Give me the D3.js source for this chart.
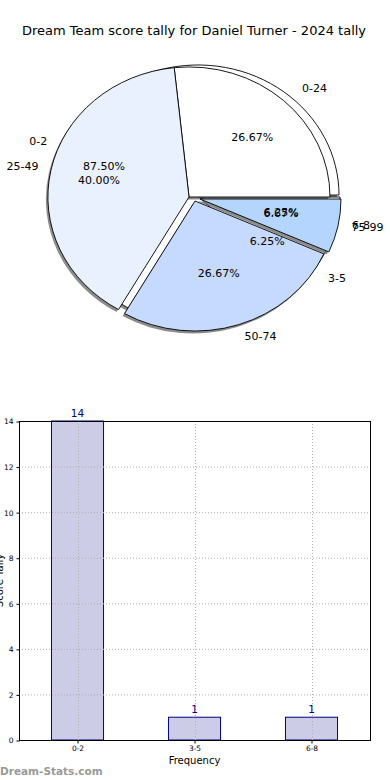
<!DOCTYPE html>
<html><head><meta charset="utf-8">
<script src="https://cdn.jsdelivr.net/npm/d3@7"></script>
<style>body{margin:0;background:#fff}svg{display:block;font-family:"DejaVu Sans",sans-serif}</style>
</head><body><svg id="c" width="390" height="780"></svg>
<script>
// ---- data ----
const title = "Dream Team score tally for Daniel Turner - 2024 tally";
const scoreCats = ["0-24","25-49","50-74","75-99"];
const scoreVals = [4,6,4,1];
const scoreColors = ["#ffffff","#eaf1fe","#c6d9fe","#b3d5fe"];
const freqCats = ["0-2","3-5","6-8"];
const freqVals = [14,1,1];
const freqColors = ["#ffffff","#ffffff","#ffffff"];
const yTicks = [0,2,4,6,8,10,12,14];
const xLabel = "Frequency";
const yLabel = "Score Tally";
const watermark = "Dream-Stats.com";

const svg = d3.select("#c");
svg.append("text").attr("x",194).attr("y",35).attr("text-anchor","middle")
  .attr("font-size",13).attr("fill","#000").text(title);

// ---- pies (elliptical) ----
const cx=189, cy=197, rx=141, ry=130;
const pie = d3.pie().sort(null).startAngle(Math.PI/2).endAngle(Math.PI/2-2*Math.PI);
const arc = d3.arc().innerRadius(0).outerRadius(1);
const shadowOff=[-2,2.5];
function midTheta(d){ return Math.PI/2 - (d.startAngle+d.endAngle)/2; }

function drawWedges(g, arcs, colors, offsets){
  arcs.forEach((d,i)=>{
    const o=offsets[i];
    g.append("path").attr("d",arc(d))
      .attr("transform",`translate(${cx+o[0]+shadowOff[0]},${cy+o[1]+shadowOff[1]}) scale(${rx},${ry})`)
      .attr("fill","#666").attr("fill-opacity",0.75).attr("stroke","none");
  });
  arcs.forEach((d,i)=>{
    const o=offsets[i];
    g.append("path").attr("d",arc(d))
      .attr("transform",`translate(${cx+o[0]},${cy+o[1]}) scale(${rx},${ry})`)
      .attr("fill",colors[i]).attr("stroke","#000").attr("stroke-width",0.9)
      .attr("vector-effect","non-scaling-stroke").attr("stroke-linejoin","round");
  });
}
const freqArcs = pie(freqVals);
const scoreArcs = pie(scoreVals);
const gp = svg.append("g");
drawWedges(gp, freqArcs, freqColors, [[9,-2],[9,-1],[10,0]]);
drawWedges(gp, scoreArcs, scoreColors, [[0,0],[0,0],[6,4],[11,2]]);

function drawLabels(arcs, cats, vals){
  const tot=d3.sum(vals);
  arcs.forEach((d,i)=>{
    const t=midTheta(d), c=Math.cos(t), s=Math.sin(t);
    gp.append("text").attr("x",cx+6+160*c).attr("y",cy-146*s)
      .attr("dy","0.35em").attr("text-anchor", c>0?"start":"end")
      .attr("font-size",11).attr("fill","#000").text(cats[i]);
    gp.append("text").attr("x",cx+1+93*c).attr("y",cy-80*s)
      .attr("dy","0.35em").attr("text-anchor","middle")
      .attr("font-size",11).attr("fill","#000").text((vals[i]/tot*100).toFixed(2)+"%");
  });
}
drawLabels(scoreArcs, scoreCats, scoreVals);
drawLabels(freqArcs, freqCats, freqVals);

// ---- bar chart ----
const L=19,R=370,T=421,B=740;
const x = d3.scaleBand().domain(freqCats).range([L,R]).paddingInner(0.555).paddingOuter(0.2775);
const y = d3.scaleLinear().domain([0,14]).range([B,T]);
const gb = svg.append("g");
gb.selectAll("rect.bar").data(freqVals).join("rect")
  .attr("x",(d,i)=>x(freqCats[i])).attr("y",d=>y(d))
  .attr("width",x.bandwidth()).attr("height",d=>B-y(d))
  .attr("fill","#ccccE6").attr("stroke","#000080").attr("stroke-width",1);
gb.selectAll("line.hg").data(yTicks).join("line")
  .attr("x1",L).attr("x2",R).attr("y1",d=>y(d)+0.5).attr("y2",d=>y(d)+0.5)
  .attr("stroke","#b0b0b0").attr("stroke-dasharray","1,2");
gb.selectAll("line.vg").data(freqCats).join("line")
  .attr("x1",d=>Math.round(x(d)+x.bandwidth()/2)+0.5).attr("x2",d=>Math.round(x(d)+x.bandwidth()/2)+0.5)
  .attr("y1",T).attr("y2",B)
  .attr("stroke","#b0b0b0").attr("stroke-dasharray","1,2");
gb.append("rect").attr("x",L+0.5).attr("y",T+0.5).attr("width",R-L).attr("height",B-T)
  .attr("fill","none").attr("stroke","#000").attr("stroke-width",1);
const ya = d3.axisLeft(y).tickValues(yTicks).tickSize(3).tickPadding(3);
const yg = gb.append("g").attr("transform",`translate(${L+0.5},0.5)`).call(ya);
yg.select(".domain").remove();
yg.selectAll("text").attr("font-size",7.5).attr("font-family","DejaVu Sans");
const xa = d3.axisBottom(x).tickSize(3).tickPadding(2);
const xg = gb.append("g").attr("transform",`translate(0.5,${B+0.5})`).call(xa);
xg.select(".domain").remove();
xg.selectAll("text").attr("font-size",7.5).attr("font-family","DejaVu Sans");
gb.selectAll("text.val").data(freqVals).join("text")
  .attr("x",(d,i)=>x(freqCats[i])+x.bandwidth()/2).attr("y",d=>y(d)-4)
  .attr("text-anchor","middle").attr("font-size",10.5).attr("fill","#000080").text(d=>d);
gb.append("text").attr("x",(L+R)/2).attr("y",764).attr("text-anchor","middle")
  .attr("font-size",10).attr("fill","#000").text(xLabel);
gb.append("text").attr("transform",`translate(3,${(T+B)/2}) rotate(-90)`).attr("text-anchor","middle")
  .attr("font-size",10).attr("fill","#000").text(yLabel);
svg.append("text").attr("x",0).attr("y",775).attr("font-size",10.5).attr("font-weight","bold")
  .attr("fill","#999").text(watermark);
</script></body></html>
